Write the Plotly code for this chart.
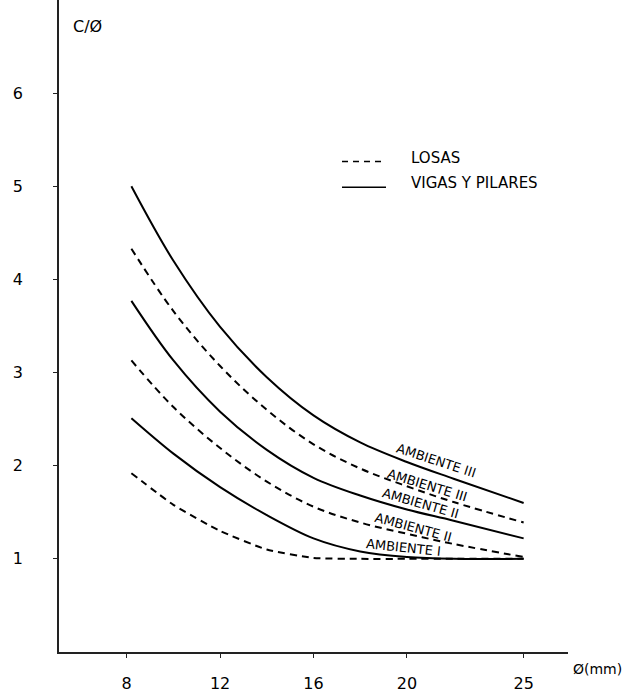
import plotly.graph_objects as go

# Diameter of bar (mm)
x_vals = [8.2, 10, 12, 14, 16, 18, 20, 22, 25]

# c/Ø ratios
vigas_III = [5.00, 4.20, 3.49, 2.95, 2.54, 2.25, 2.04, 1.86, 1.60]
losas_III = [4.33, 3.66, 3.07, 2.60, 2.23, 1.97, 1.78, 1.61, 1.39]
vigas_II = [3.77, 3.13, 2.58, 2.17, 1.87, 1.68, 1.53, 1.41, 1.22]
losas_II = [3.13, 2.63, 2.19, 1.83, 1.56, 1.39, 1.27, 1.16, 1.02]
vigas_I = [2.51, 2.13, 1.77, 1.47, 1.22, 1.08, 1.02, 1.00, 1.00]
losas_I = [1.92, 1.58, 1.30, 1.10, 1.01, 1.00, 1.00, 1.00, 1.00]

x_ticks = [8, 12, 16, 20, 25]
y_ticks = [1, 2, 3, 4, 5, 6]

# curve labels: text, x, y, angle
label_text = ["AMBIENTE III", "AMBIENTE III", "AMBIENTE II", "AMBIENTE II", "AMBIENTE I"]
label_x = [21.25, 20.9, 20.6, 20.3, 19.85]
label_y = [2.06, 1.79, 1.59, 1.34, 1.12]
label_angle = [18, 17, 16, 15, 6]

FONT = "DejaVu Sans"
fig = go.Figure()

series = [
    (vigas_III, "solid", 1.0),
    (losas_III, "dash", 1.0),
    (vigas_II, "solid", 1.0),
    (losas_II, "dash", 1.0),
    (vigas_I, "solid", 0.9),
    (losas_I, "dash", 0.5),
]
for ys, style, sm in series:
    fig.add_trace(go.Scatter(
        x=x_vals, y=ys, mode="lines",
        line=dict(color="black", width=2,
                  dash="7px,5px" if style == "dash" else "solid",
                  shape="spline", smoothing=sm),
        showlegend=False, hoverinfo="skip"))

for txt, lx, ly, ang in zip(label_text, label_x, label_y, label_angle):
    fig.add_annotation(x=lx, y=ly, text=txt, showarrow=False, textangle=ang,
                       xanchor="center", yanchor="middle",
                       font=dict(family=FONT, size=13, color="black"))

# legend (manual)
def px_x(p):
    return (p - 59) / 509


def px_y(p):
    return (654.4 - p) / 654.4


fig.add_shape(type="line", xref="paper", yref="paper",
              x0=px_x(342), x1=px_x(386), y0=px_y(162), y1=px_y(162),
              line=dict(color="black", width=1.5, dash="6px,5px"))
fig.add_shape(type="line", xref="paper", yref="paper",
              x0=px_x(342), x1=px_x(386), y0=px_y(188), y1=px_y(188),
              line=dict(color="black", width=1.5))
fig.add_annotation(xref="paper", yref="paper", x=px_x(409), y=px_y(159),
                   xanchor="left", yanchor="middle", text="LOSAS",
                   showarrow=False, font=dict(family=FONT, size=15, color="black"))
fig.add_annotation(xref="paper", yref="paper", x=px_x(409), y=px_y(184),
                   xanchor="left", yanchor="middle", text="VIGAS Y PILARES",
                   showarrow=False, font=dict(family=FONT, size=15, color="black"))

# axis titles
fig.add_annotation(xref="paper", yref="paper", x=px_x(71), y=px_y(27),
                   xanchor="left", yanchor="middle", text="C/Ø",
                   showarrow=False, font=dict(family=FONT, size=16, color="black"))
fig.add_annotation(xref="paper", yref="paper", x=px_x(571), y=px_y(671),
                   xanchor="left", yanchor="middle", text="Ø(mm)",
                   showarrow=False, font=dict(family=FONT, size=14, color="black"))

fig.update_xaxes(range=[5.1, 26.9], tickvals=x_ticks, ticktext=[str(v) for v in x_ticks],
                 showgrid=False, zeroline=False, showline=True, linecolor="#222",
                 linewidth=1.5, ticks="outside", ticklen=4, tickcolor="#222",
                 ticklabelstandoff=12,
                 tickfont=dict(family=FONT, size=16, color="black"))
fig.update_yaxes(range=[0, 7.0], tickvals=y_ticks, ticktext=[str(v) for v in y_ticks],
                 showgrid=False, zeroline=False, showline=True, linecolor="#222",
                 linewidth=1.5, ticks="outside", ticklen=4, tickcolor="#222",
                 ticklabelstandoff=27,
                 tickfont=dict(family=FONT, size=16, color="black"))

fig.update_layout(width=626, height=693,
                  margin=dict(l=59, r=58, t=0, b=39),
                  paper_bgcolor="white", plot_bgcolor="white",
                  showlegend=False)

fig.write_html("out.html")
